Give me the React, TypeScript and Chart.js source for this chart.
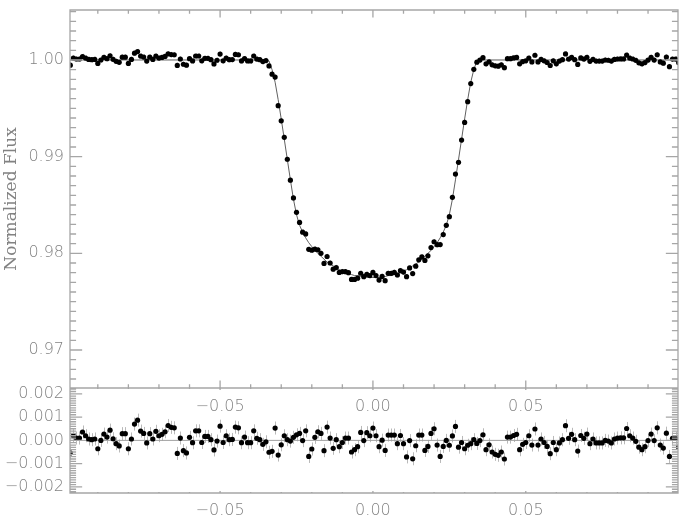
import React, { useEffect, useRef } from "react";
import { Chart, registerables } from "chart.js";

Chart.register(...registerables);

// ---- Data ----
const phase = [
  -0.099, -0.098, -0.097, -0.096, -0.095, -0.094, -0.093, -0.092, -0.091, -0.090,
  -0.089, -0.088, -0.087, -0.086, -0.085, -0.084, -0.083, -0.082, -0.081, -0.080,
  -0.079, -0.078, -0.077, -0.076, -0.075, -0.074, -0.073, -0.072, -0.071, -0.070,
  -0.069, -0.068, -0.067, -0.066, -0.065, -0.064, -0.063, -0.062, -0.061, -0.060,
  -0.059, -0.058, -0.057, -0.056, -0.055, -0.054, -0.053, -0.052, -0.051, -0.050,
  -0.049, -0.048, -0.047, -0.046, -0.045, -0.044, -0.043, -0.042, -0.041, -0.040,
  -0.039, -0.038, -0.037, -0.036, -0.035, -0.034, -0.033, -0.032, -0.031, -0.030,
  -0.029, -0.028, -0.027, -0.026, -0.025, -0.024, -0.023, -0.022, -0.021, -0.020,
  -0.019, -0.018, -0.017, -0.016, -0.015, -0.014, -0.013, -0.012, -0.011, -0.010,
  -0.009, -0.008, -0.007, -0.006, -0.005, -0.004, -0.003, -0.002, -0.001, 0.000,
  0.001, 0.002, 0.003, 0.004, 0.005, 0.006, 0.007, 0.008, 0.009, 0.010,
  0.011, 0.012, 0.013, 0.014, 0.015, 0.016, 0.017, 0.018, 0.019, 0.020,
  0.021, 0.022, 0.023, 0.024, 0.025, 0.026, 0.027, 0.028, 0.029, 0.030,
  0.031, 0.032, 0.033, 0.034, 0.035, 0.036, 0.037, 0.038, 0.039, 0.040,
  0.041, 0.042, 0.043, 0.044, 0.045, 0.046, 0.047, 0.048, 0.049, 0.050,
  0.051, 0.052, 0.053, 0.054, 0.055, 0.056, 0.057, 0.058, 0.059, 0.060,
  0.061, 0.062, 0.063, 0.064, 0.065, 0.066, 0.067, 0.068, 0.069, 0.070,
  0.071, 0.072, 0.073, 0.074, 0.075, 0.076, 0.077, 0.078, 0.079, 0.080,
  0.081, 0.082, 0.083, 0.084, 0.085, 0.086, 0.087, 0.088, 0.089, 0.090,
  0.091, 0.092, 0.093, 0.094, 0.095, 0.096, 0.097, 0.098, 0.099, 0.100,
];

const flux = [
  0.99946, 1.00020, 1.00010, 1.00010, 1.00036, 1.00020, 1.00006, 1.00003, 1.00006, 0.99964,
  1.00000, 1.00027, 1.00014, 1.00044, 1.00007, 0.99986, 0.99976, 1.00029, 1.00029, 0.99964,
  1.00006, 1.00070, 1.00087, 1.00040, 1.00030, 0.99989, 1.00029, 1.00006, 1.00039, 1.00020,
  1.00026, 1.00037, 1.00064, 1.00056, 1.00054, 0.99944, 1.00010, 0.99956, 0.99946, 1.00013,
  0.99990, 1.00041, 1.00041, 0.99991, 1.00017, 1.00017, 1.00003, 0.99959, 0.99997, 1.00061,
  0.99991, 1.00020, 1.00003, 1.00004, 1.00057, 1.00054, 0.99990, 1.00014, 0.99990, 0.99990,
  1.00041, 1.00009, 1.00003, 0.99983, 0.99994, 0.99939, 0.99853, 0.99823, 0.99527, 0.99371,
  0.99200, 0.98973, 0.98757, 0.98573, 0.98424, 0.98320, 0.98219, 0.98201, 0.98041, 0.98033,
  0.98043, 0.98037, 0.98000, 0.97896, 0.97967, 0.97900, 0.97836, 0.97853, 0.97803, 0.97811,
  0.97810, 0.97800, 0.97730, 0.97730, 0.97743, 0.97794, 0.97759, 0.97783, 0.97770, 0.97803,
  0.97770, 0.97723, 0.97761, 0.97717, 0.97793, 0.97793, 0.97803, 0.97776, 0.97821, 0.97806,
  0.97759, 0.97849, 0.97791, 0.97867, 0.97933, 0.97963, 0.97927, 0.97974, 0.98060, 0.98120,
  0.98090, 0.98091, 0.98194, 0.98290, 0.98379, 0.98579, 0.98820, 0.98941, 0.99171, 0.99354,
  0.99569, 0.99756, 0.99903, 0.99977, 0.99999, 1.00024, 0.99960, 0.99981, 0.99950, 0.99940,
  0.99936, 0.99950, 0.99920, 1.00014, 1.00014, 1.00021, 1.00026, 0.99960, 0.99983, 0.99991,
  1.00020, 0.99980, 1.00049, 0.99980, 1.00006, 0.99991, 0.99974, 0.99943, 0.99991, 0.99960,
  0.99989, 1.00003, 1.00063, 1.00009, 1.00026, 1.00003, 0.99954, 1.00021, 1.00009, 1.00027,
  0.99986, 1.00006, 0.99989, 0.99989, 0.99989, 1.00000, 0.99997, 0.99989, 1.00006, 1.00010,
  1.00011, 1.00011, 1.00051, 1.00020, 1.00010, 0.99996, 0.99971, 0.99960, 0.99973, 0.99999,
  1.00027, 0.99999, 1.00054, 0.99980, 0.99967, 1.00031, 0.99931, 1.00009, 1.00009, 0.99971,
];

const residual = [
  -0.00054, 0.00020, 0.00010, 0.00010, 0.00036, 0.00020, 0.00006, 0.00003, 0.00006, -0.00036,
  0.00000, 0.00027, 0.00014, 0.00044, 0.00007, -0.00014, -0.00024, 0.00029, 0.00029, -0.00036,
  0.00006, 0.00070, 0.00087, 0.00040, 0.00030, -0.00011, 0.00029, 0.00006, 0.00039, 0.00020,
  0.00026, 0.00037, 0.00064, 0.00056, 0.00054, -0.00056, 0.00010, -0.00044, -0.00054, 0.00013,
  -0.00010, 0.00041, 0.00041, -0.00009, 0.00017, 0.00017, 0.00003, -0.00041, -0.00003, 0.00061,
  -0.00009, 0.00020, 0.00003, 0.00004, 0.00057, 0.00054, -0.00010, 0.00014, -0.00010, -0.00010,
  0.00041, 0.00009, 0.00003, -0.00017, -0.00006, -0.00051, -0.00047, 0.00053, -0.00063, -0.00019,
  0.00020, 0.00003, -0.00003, 0.00013, 0.00024, 0.00030, -0.00001, 0.00041, -0.00069, -0.00037,
  0.00013, 0.00037, 0.00030, -0.00044, 0.00057, 0.00010, -0.00034, 0.00003, -0.00027, -0.00009,
  0.00010, 0.00010, -0.00050, -0.00040, -0.00027, 0.00034, -0.00001, 0.00033, 0.00020, 0.00053,
  0.00020, -0.00027, 0.00001, -0.00043, 0.00023, 0.00023, 0.00023, -0.00014, 0.00021, -0.00014,
  -0.00071, -0.00001, -0.00079, -0.00023, 0.00023, 0.00023, -0.00043, -0.00026, 0.00030, 0.00050,
  -0.00020, -0.00069, -0.00026, 0.00000, -0.00021, 0.00019, 0.00060, -0.00029, -0.00009, -0.00036,
  -0.00021, -0.00014, 0.00003, -0.00013, -0.00001, 0.00024, -0.00040, -0.00019, -0.00050, -0.00060,
  -0.00064, -0.00050, -0.00080, 0.00014, 0.00014, 0.00021, 0.00026, -0.00040, -0.00017, -0.00009,
  0.00020, -0.00020, 0.00049, -0.00020, 0.00006, -0.00009, -0.00026, -0.00057, -0.00009, -0.00040,
  -0.00011, 0.00003, 0.00063, 0.00009, 0.00026, 0.00003, -0.00046, 0.00021, 0.00009, 0.00027,
  -0.00014, 0.00006, -0.00011, -0.00011, -0.00011, 0.00000, -0.00003, -0.00011, 0.00006, 0.00010,
  0.00011, 0.00011, 0.00051, 0.00020, 0.00010, -0.00004, -0.00029, -0.00040, -0.00027, -0.00001,
  0.00027, -0.00001, 0.00054, -0.00020, -0.00033, 0.00031, -0.00069, 0.00009, 0.00009, -0.00029,
];

const errorBar = 0.00028;

const modelPhase = [
  -0.0991, -0.035, -0.034, -0.033, -0.032, -0.031, -0.030, -0.029, -0.028, -0.027,
  -0.026, -0.025, -0.024, -0.023, -0.022, -0.021, -0.020, -0.019, -0.018, -0.017,
  -0.016, -0.015, -0.014, -0.013, -0.012, -0.011, -0.010, -0.009, -0.008, -0.007,
  -0.006, -0.005, -0.004, -0.003, -0.002, -0.001, 0.000, 0.001, 0.002, 0.003,
  0.004, 0.005, 0.006, 0.007, 0.008, 0.009, 0.010, 0.011, 0.012, 0.013,
  0.014, 0.015, 0.016, 0.017, 0.018, 0.019, 0.020, 0.021, 0.022, 0.023,
  0.024, 0.025, 0.026, 0.027, 0.028, 0.029, 0.030, 0.031, 0.032, 0.033,
  0.034, 0.035, 0.0998,
];
const modelFlux = [
  1.0000, 1.0000, 0.9999, 0.9990, 0.9977, 0.9959, 0.9939, 0.9918, 0.9897, 0.9876,
  0.9856, 0.9840, 0.9829, 0.9822, 0.9816, 0.9811, 0.9807, 0.9803, 0.9800, 0.9797,
  0.9794, 0.9791, 0.9789, 0.9787, 0.9785, 0.9783, 0.9782, 0.9780, 0.9779, 0.9778,
  0.9777, 0.9777, 0.9776, 0.9776, 0.9775, 0.9775, 0.9775, 0.9775, 0.9775, 0.9776,
  0.9776, 0.9777, 0.9777, 0.9778, 0.9779, 0.9780, 0.9782, 0.9783, 0.9785, 0.9787,
  0.9789, 0.9791, 0.9794, 0.9797, 0.9800, 0.9803, 0.9807, 0.9811, 0.9816, 0.9822,
  0.9829, 0.9840, 0.9856, 0.9876, 0.9897, 0.9918, 0.9939, 0.9959, 0.9977, 0.9990,
  0.9999, 1.0000, 1.0000,
];

const xRange = [-0.0991, 0.0998];
const fluxRange = [0.96607, 1.00517];
const resRange = [-0.00226, 0.00225];
const yTitle = "Normalized Flux";

// ---- styles ----
const TEXT = "#828282";
const AXIS = "#a6a6a6";
const tickFont = { family: "'DejaVu Sans'", size: 16, weight: "200" as any };

const fmt = (d: number) => (v: number) =>
  (v < -1e-9 ? "\u2212" : "") + Math.abs(v).toFixed(d);

const zeroPad = (s: any) => {
  s.paddingTop = 0;
  s.paddingBottom = 0;
  s.paddingLeft = 0;
  s.paddingRight = 0;
};

const errorBarsPlugin = {
  id: "errorBars",
  beforeDatasetsDraw(chart: any) {
    const { ctx, chartArea } = chart;
    const xs = chart.scales.x;
    const yF = chart.scales.yFlux;
    const yR = chart.scales.yRes;
    ctx.save();
    ctx.beginPath();
    ctx.rect(chartArea.left, chartArea.top, chartArea.right - chartArea.left, chartArea.bottom - chartArea.top);
    ctx.clip();
    ctx.strokeStyle = "#b9b9b9";
    ctx.lineWidth = 1;
    ctx.beginPath();
    for (let i = 0; i < phase.length; i++) {
      const px = Math.round(xs.getPixelForValue(phase[i])) + 0.5;
      ctx.moveTo(px, yF.getPixelForValue(flux[i] - errorBar));
      ctx.lineTo(px, yF.getPixelForValue(flux[i] + errorBar));
      ctx.moveTo(px, yR.getPixelForValue(residual[i] - errorBar));
      ctx.lineTo(px, yR.getPixelForValue(residual[i] + errorBar));
    }
    ctx.stroke();
    ctx.restore();
  },
};

const framePlugin = {
  id: "frameTicks",
  afterDraw(chart: any) {
    const { ctx, chartArea } = chart;
    const xs = chart.scales.x;
    const yF = chart.scales.yFlux;
    const yR = chart.scales.yRes;
    const L = chartArea.left, R = chartArea.right, T = chartArea.top, B = chartArea.bottom;
    const M = yF.bottom;
    const topH = M - T, botH = B - M, W = R - L;
    ctx.save();
    ctx.strokeStyle = AXIS;
    ctx.lineWidth = 1.3;
    ctx.beginPath();
    ctx.rect(L, T, W, B - T);
    ctx.moveTo(L, M);
    ctx.lineTo(R, M);
    // x ticks
    for (let k = -9; k <= 9; k++) {
      const v = k / 100;
      const px = xs.getPixelForValue(v);
      const major = k % 5 === 0;
      const lt = (major ? 0.02 : 0.01) * topH;
      const lb = (major ? 0.02 : 0.01) * botH;
      ctx.moveTo(px, T); ctx.lineTo(px, T + lt);
      ctx.moveTo(px, M); ctx.lineTo(px, M - lt);
      ctx.moveTo(px, M); ctx.lineTo(px, M + lb);
      ctx.moveTo(px, B); ctx.lineTo(px, B - lb);
    }
    // flux y ticks
    for (let k = 967; k <= 1005; k++) {
      const py = yF.getPixelForValue(k / 1000);
      const major = k % 10 === 0;
      const l = (major ? 0.02 : 0.01) * W;
      ctx.moveTo(L, py); ctx.lineTo(L + l, py);
      ctx.moveTo(R, py); ctx.lineTo(R - l, py);
    }
    // residual y ticks
    for (let k = -22; k <= 22; k++) {
      const py = yR.getPixelForValue(k / 10000);
      const major = k % 10 === 0;
      const l = (major ? 0.02 : 0.01) * W;
      ctx.moveTo(L, py); ctx.lineTo(L + l, py);
      ctx.moveTo(R, py); ctx.lineTo(R - l, py);
    }
    ctx.stroke();
    ctx.restore();
  },
};

export default function App() {
  const ref = useRef<HTMLCanvasElement | null>(null);

  useEffect(() => {
    if (!ref.current) return;
    const noGrid = { display: false, drawTicks: false };
    const noBorder = { display: false };
    const xTicks = (pad: number) => ({
      stepSize: 0.05,
      includeBounds: false,
      autoSkip: false,
      maxRotation: 0,
      padding: pad,
      color: TEXT,
      font: tickFont,
      callback: fmt(2),
    });
    const chart = new Chart(ref.current, {
      type: "scatter",
      data: {
        datasets: [
          {
            type: "scatter",
            label: "flux",
            data: phase.map((p, i) => ({ x: p, y: flux[i] })),
            xAxisID: "x",
            yAxisID: "yFlux",
            pointRadius: 2.6,
            pointBackgroundColor: "#000",
            pointBorderColor: "#000",
            pointBorderWidth: 0,
            showLine: false,
            order: 0,
          },
          {
            type: "line",
            label: "model",
            data: modelPhase.map((p, i) => ({ x: p, y: modelFlux[i] })),
            xAxisID: "x",
            yAxisID: "yFlux",
            borderColor: "#606060",
            borderWidth: 1,
            pointRadius: 0,
            tension: 0,
            fill: false,
            order: 1,
          },
          {
            type: "scatter",
            label: "residual",
            data: phase.map((p, i) => ({ x: p, y: residual[i] })),
            xAxisID: "x",
            yAxisID: "yRes",
            pointRadius: 2.6,
            pointBackgroundColor: "#000",
            pointBorderColor: "#000",
            pointBorderWidth: 0,
            showLine: false,
            order: 0,
          },
          {
            type: "line",
            label: "zero",
            data: [
              { x: xRange[0], y: 0 },
              { x: xRange[1], y: 0 },
            ],
            xAxisID: "x",
            yAxisID: "yRes",
            borderColor: "#a0a0a0",
            borderWidth: 1,
            pointRadius: 0,
            fill: false,
            order: 1,
          },
        ],
      },
      options: {
        animation: false,
        responsive: false,
        devicePixelRatio: 1,
        events: [],
        layout: { autoPadding: false, padding: { left: 0, right: 14, top: 10, bottom: 0 } },
        plugins: { legend: { display: false }, tooltip: { enabled: false } },
        scales: {
          x: {
            type: "linear",
            position: "bottom",
            min: xRange[0],
            max: xRange[1],
            grid: noGrid,
            border: noBorder,
            ticks: xTicks(8),
            afterFit: (s: any) => {
              s.height = 26;
              zeroPad(s);
            },
          },
          xMid: {
            type: "linear",
            axis: "x",
            position: { yFlux: fluxRange[0] },
            min: xRange[0],
            max: xRange[1],
            grid: noGrid,
            border: noBorder,
            ticks: xTicks(9),
            afterFit: zeroPad,
          },
          yRes: {
            type: "linear",
            position: "left",
            stack: "panels",
            stackWeight: 105,
            min: resRange[0],
            max: resRange[1],
            grid: noGrid,
            border: noBorder,
            ticks: {
              stepSize: 0.001,
              includeBounds: false,
              autoSkip: false,
              padding: 6,
              color: TEXT,
              font: tickFont,
              callback: fmt(3),
            },
            afterFit: (s: any) => {
              s.width = 70;
              zeroPad(s);
            },
          },
          yFlux: {
            type: "linear",
            position: "left",
            stack: "panels",
            stackWeight: 378,
            min: fluxRange[0],
            max: fluxRange[1],
            grid: noGrid,
            border: noBorder,
            title: {
              display: true,
              text: yTitle,
              color: TEXT,
              font: { family: "'DejaVu Serif'", size: 17, weight: "normal" as any },
              padding: { top: 1, bottom: 0 },
            },
            ticks: {
              stepSize: 0.01,
              includeBounds: false,
              autoSkip: false,
              padding: 6,
              color: TEXT,
              font: tickFont,
              callback: fmt(2),
            },
            afterFit: (s: any) => {
              s.width = 70;
              zeroPad(s);
            },
          },
        } as any,
      },
      plugins: [errorBarsPlugin, framePlugin],
    } as any);
    return () => chart.destroy();
  }, []);

  return (
    <div style={{ position: "fixed", left: 0, top: 0, width: 692, height: 519, background: "#fff" }}>
      <canvas ref={ref} width={692} height={519} style={{ display: "block", width: 692, height: 519 }} />
    </div>
  );
}
